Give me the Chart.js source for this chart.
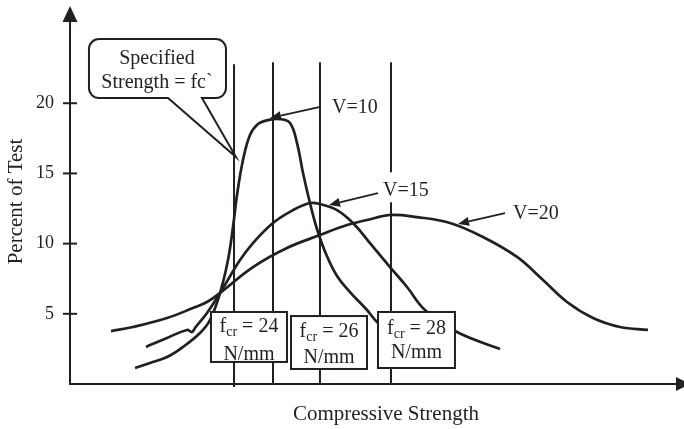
<!DOCTYPE html>
<html><head><meta charset="utf-8">
<script src="https://cdn.jsdelivr.net/npm/chart.js@4.4.1/dist/chart.umd.min.js"></script>
<style>
html,body{margin:0;padding:0;background:#fff}
#wrap{width:684px;height:429px;position:relative}
</style></head><body>
<div id="wrap"><canvas id="c" width="684" height="429"></canvas></div>
<script>
/* DATA (x in arbitrary strength units 0-100, y in percent of test) */
const seriesNames=['V=10','V=15','V=20'];
const v10X=[10.66,13.11,15.90,18.52,21.31,22.95,24.59,25.90,26.72,27.38,28.36,29.51,30.82,32.46,34.43,36.07,37.21,38.20,39.34,40.49,41.97,43.77,45.90,48.69,50.33,53.28];
const v10Y=[1.14,1.50,1.92,2.64,3.63,4.56,6.48,8.83,11.18,13.46,15.95,17.74,18.52,18.80,18.87,18.59,17.17,15.03,12.89,11.04,9.26,7.69,6.55,5.27,4.42,3.42];
const v15X=[12.46,15.90,19.18,20.00,20.49,22.46,24.59,27.87,30.00,33.28,36.56,39.34,40.98,43.77,46.39,49.18,52.46,55.25,58.20,63.44,70.49];
const v15Y=[2.64,3.28,3.85,3.70,3.99,5.06,6.48,8.83,10.04,11.47,12.39,12.89,12.82,12.39,11.47,10.04,8.33,6.91,5.27,3.70,2.49];
const v20X=[6.72,10.33,15.90,20.16,22.46,24.59,30.00,35.57,40.98,45.41,48.69,52.46,56.89,62.30,67.70,73.28,77.54,81.48,85.74,90.16,94.75];
const v20Y=[3.77,4.06,4.70,5.41,5.84,6.48,8.33,9.69,10.61,11.32,11.68,12.04,11.89,11.47,10.47,9.05,7.41,5.84,4.70,4.06,3.85];
const refX=[26.89,33.28,40.98,52.62];
const refTop=[22.78,22.92,22.92,22.92];
const refBottom=[-0.21,0,0,0];
const refGap=[null,null,null,[12.95,15.09]];
const fcrValues=['24','26','28'];
const yTicks=[5,10,15,20];

const INK='#231f20';
const SERIF='"Liberation Serif","Times New Roman",serif';

/* annotation placement, in data units */
const callout={l:3.11,r:25.57,t:24.57,b:20.37,tailL:16.07,tailR:21.64,tip:[27.21,16.17],cx:14.26,lines:[['Specified',22.79],['Strength = fc`',21.08]]};
const boxes=[
  {l:23.11,r:35.57,t:5.13,b:1.57,y1:3.70,y2:1.71},
  {l:36.23,r:48.69,t:4.84,b:1.07,y1:3.35,y2:1.50},
  {l:50.49,r:63.11,t:5.13,b:1.14,y1:3.56,y2:1.85}
];
const tags=[
  {x:42.95,y:19.30,from:[40.82,19.73],to:[32.79,18.95]},
  {x:51.31,y:13.39,from:[50.49,13.60],to:[42.46,12.75]},
  {x:72.62,y:11.75,from:[71.31,12.18],to:[63.61,11.40]}
];
const xTitle={text:'Compressive Strength',x:51.8,y:-2.57};

const pts=(xs,ys)=>xs.map((x,i)=>({x,y:ys[i]}));
function refData(i){
  const g=refGap[i];
  if(!g)return [{x:refX[i],y:refTop[i]},{x:refX[i],y:refBottom[i]}];
  return [{x:refX[i],y:refTop[i]},{x:refX[i],y:g[1]},{x:refX[i],y:null},{x:refX[i],y:g[0]},{x:refX[i],y:refBottom[i]}];
}
const curve=(label,data)=>({label,data,borderColor:INK,borderWidth:2.7,pointRadius:0,tension:0.4,fill:false});
const datasets=[
  ...refX.map((x,i)=>({label:'ref'+i,data:refData(i),borderColor:INK,borderWidth:2,pointRadius:0,tension:0,spanGaps:false,clip:false})),
  curve(seriesNames[0],pts(v10X,v10Y)),
  curve(seriesNames[1],pts(v15X,v15Y)),
  curve(seriesNames[2],pts(v20X,v20Y))
];

function arrowTo(ctx,x1,y1,x2,y2){
  const a=Math.atan2(y2-y1,x2-x1),L=11,W=4.5;
  const bx=x2-L*Math.cos(a),by=y2-L*Math.sin(a);
  ctx.beginPath();ctx.moveTo(x1,y1);ctx.lineTo(bx,by);ctx.stroke();
  ctx.beginPath();ctx.moveTo(x2,y2);
  ctx.lineTo(bx+W*Math.sin(a),by-W*Math.cos(a));
  ctx.lineTo(bx-W*Math.sin(a),by+W*Math.cos(a));
  ctx.closePath();ctx.fill();
}
function fcrText(ctx,cx,y,num){
  const big='20px '+SERIF,sm='14px '+SERIF,tail=' = '+num;
  ctx.font=big;const w1=ctx.measureText('f').width,w3=ctx.measureText(tail).width;
  ctx.font=sm;const w2=ctx.measureText('cr').width;
  let x=cx-(w1+w2+w3)/2;
  ctx.textAlign='left';
  ctx.font=big;ctx.fillText('f',x,y);x+=w1;
  ctx.font=sm;ctx.fillText('cr',x,y+4);x+=w2;
  ctx.font=big;ctx.fillText(tail,x,y);
}

const notesPlugin={
  id:'notes',
  afterDatasetsDraw(chart){
    const ctx=chart.ctx,xs=chart.scales.x,ys=chart.scales.y,ca=chart.chartArea;
    const X=v=>xs.getPixelForValue(v),Y=v=>ys.getPixelForValue(v);
    ctx.save();
    ctx.strokeStyle=INK;ctx.fillStyle=INK;ctx.lineWidth=2;ctx.textBaseline='alphabetic';
    // y tick marks crossing the axis
    yTicks.forEach(v=>{ctx.beginPath();ctx.moveTo(ca.left-7,Y(v));ctx.lineTo(ca.left+7,Y(v));ctx.stroke();});
    // axis arrows
    ctx.beginPath();ctx.moveTo(ca.right-6,ca.bottom);ctx.lineTo(ca.right+2,ca.bottom);ctx.stroke();
    ctx.beginPath();ctx.moveTo(ca.left,6);ctx.lineTo(ca.left-7.5,22);ctx.lineTo(ca.left+7.5,22);ctx.closePath();ctx.fill();
    ctx.beginPath();ctx.moveTo(ca.right+10,ca.bottom);ctx.lineTo(ca.right-4,ca.bottom-7);ctx.lineTo(ca.right-4,ca.bottom+7);ctx.closePath();ctx.fill();
    // x axis title
    ctx.font='21px '+SERIF;ctx.textAlign='center';
    ctx.fillText(xTitle.text,X(xTitle.x),Y(xTitle.y));
    // fcr boxes
    boxes.forEach((b,i)=>{
      const l=X(b.l),r=X(b.r),t=Y(b.t),bt=Y(b.b);
      ctx.fillStyle='#fff';ctx.fillRect(l,t,r-l,bt-t);
      ctx.strokeRect(l,t,r-l,bt-t);
      ctx.fillStyle=INK;
      const cx=(l+r)/2;
      fcrText(ctx,cx,Y(b.y1),fcrValues[i]);
      ctx.font='20px '+SERIF;ctx.textAlign='center';ctx.fillText('N/mm',cx,Y(b.y2));
    });
    // callout
    const c=callout,l=X(c.l),r=X(c.r),t=Y(c.t),b=Y(c.b),rad=10;
    ctx.beginPath();
    ctx.moveTo(l+rad,t);ctx.lineTo(r-rad,t);ctx.arcTo(r,t,r,t+rad,rad);
    ctx.lineTo(r,b-rad);ctx.arcTo(r,b,r-rad,b,rad);
    ctx.lineTo(X(c.tailR),b);ctx.lineTo(X(c.tip[0]),Y(c.tip[1]));ctx.lineTo(X(c.tailL),b);
    ctx.lineTo(l+rad,b);ctx.arcTo(l,b,l,b-rad,rad);
    ctx.lineTo(l,t+rad);ctx.arcTo(l,t,l+rad,t,rad);ctx.closePath();
    ctx.stroke();
    ctx.font='20px '+SERIF;ctx.textAlign='center';
    c.lines.forEach(([s,y])=>ctx.fillText(s,X(c.cx),Y(y)));
    // series tags with arrows
    ctx.lineWidth=1.8;
    tags.forEach((g,i)=>{
      ctx.textAlign='left';ctx.fillText(seriesNames[i],X(g.x),Y(g.y));
      arrowTo(ctx,X(g.from[0]),Y(g.from[1]),X(g.to[0]),Y(g.to[1]));
    });
    ctx.restore();
  }
};

new Chart(document.getElementById('c'),{
  type:'line',
  data:{datasets},
  options:{
    responsive:false,animation:false,
    layout:{padding:{top:19,right:4,left:0,bottom:0}},
    plugins:{legend:{display:false},tooltip:{enabled:false}},
    scales:{
      x:{type:'linear',min:0,max:100,
        ticks:{display:false},grid:{display:false},
        border:{display:true,color:INK,width:2},
        afterFit(s){s.height=45;}},
      y:{type:'linear',min:0,max:26,
        afterBuildTicks(s){s.ticks=yTicks.map(v=>({value:v}));},
        ticks:{color:INK,font:{family:SERIF,size:18},padding:8},
        grid:{display:false},
        border:{display:true,color:INK,width:2},
        title:{display:true,text:'Percent of Test',color:INK,font:{family:SERIF,size:21},padding:{top:4,bottom:0}},
        afterFit(s){s.width=70;}}
    }
  },
  plugins:[notesPlugin]
});
</script>
</body></html>
